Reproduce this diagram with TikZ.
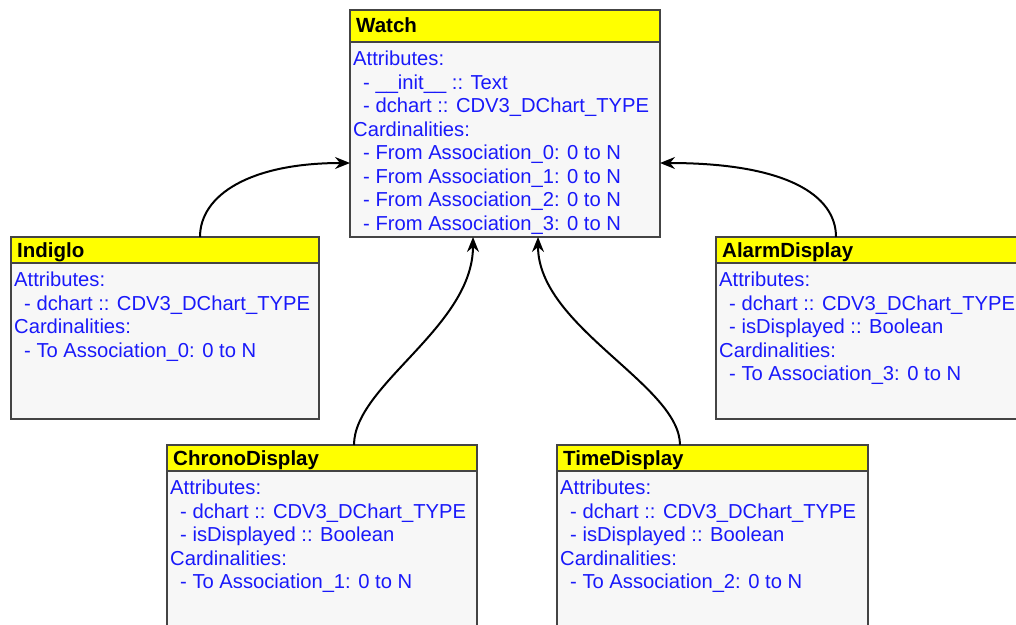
\documentclass[tikz,border=0pt]{standalone}
\usepackage{fontspec}
\setmainfont{Liberation Sans}
\usetikzlibrary{calc,arrows.meta}
\definecolor{boxline}{HTML}{444444}
\definecolor{bodyfill}{HTML}{F7F7F7}
\definecolor{titlefill}{HTML}{FFFF00}
\definecolor{attrblue}{RGB}{25,25,250}
\tikzset{
  titlebox/.style={draw=boxline, line width=1.2pt, fill=titlefill, anchor=north west, inner sep=0pt, outer sep=0pt},
  bodybox/.style={draw=boxline, line width=1.2pt, fill=bodyfill, anchor=north west, inner sep=0pt, outer sep=0pt},
  titletext/.style={anchor=base west, inner sep=0pt, font=\fontsize{20.5}{23.5}\selectfont\bfseries, text=black},
  linetext/.style={anchor=base west, inner sep=0pt, font=\fontsize{20.2}{23.5}\selectfont, text=attrblue},
  conn/.style={draw=black, line width=2pt, -{Stealth[length=15pt,width=12pt,inset=5pt]}}
}
% #1 name, #2 x, #3 y, #4 width, #5 title height, #6 body height, #7 title, #8 title baseline, #9 lines
\newcommand{\umlclass}[9]{%
  \node[titlebox, minimum width=#4pt, minimum height=#5pt] (#1T) at (#2,#3) {};
  \node[bodybox, minimum width=#4pt, minimum height=#6pt] (#1B) at (#1T.south west) {};
  \node[titletext] (#1N) at ($(#1T.north west)+(6,#8)$) {#7};
  \foreach \k/\t [count=\i] in {#9} {
    \node[linetext] (#1L\i) at ($(#1B.north west)+(\k,{23.5+23.5*(\i-1)})$) {\t};
  }
}
\begin{document}
\begin{tikzpicture}[x=1pt,y=-1pt]
\useasboundingbox (0,0) rectangle (1016,624);
\clip (0,0) rectangle (1016,624);
\fill[white] (0,0) rectangle (1016,624);

\umlclass{watch}{350}{10}{310}{32}{195}{Watch}{22.5}{3/Attributes:, 13/- \_\_init\_\_ :: Text, 13/- dchart :: CDV3\_DChart\_TYPE, 3/Cardinalities:, 13/- From Association\_0: 0 to N, 13/- From Association\_1: 0 to N, 13/- From Association\_2: 0 to N, 13/- From Association\_3: 0 to N}

\umlclass{ind}{11}{237}{308}{26}{156}{Indiglo}{20}{3/Attributes:, 13/- dchart :: CDV3\_DChart\_TYPE, 3/Cardinalities:, 13/- To Association\_0: 0 to N}

\umlclass{alarm}{716}{237}{310}{26}{156}{AlarmDisplay}{20}{3/Attributes:, 13/- dchart :: CDV3\_DChart\_TYPE, 13/- isDisplayed :: Boolean, 3/Cardinalities:, 13/- To Association\_3: 0 to N}

\umlclass{chrono}{167}{445}{310}{26}{170}{ChronoDisplay}{20}{3/Attributes:, 13/- dchart :: CDV3\_DChart\_TYPE, 13/- isDisplayed :: Boolean, 3/Cardinalities:, 13/- To Association\_1: 0 to N}

\umlclass{time}{557}{445}{311}{26}{170}{TimeDisplay}{20}{3/Attributes:, 13/- dchart :: CDV3\_DChart\_TYPE, 13/- isDisplayed :: Boolean, 3/Cardinalities:, 13/- To Association\_2: 0 to N}

\draw[conn] ($(indT.north west)+(189,0)$) .. controls +(0,-42) and +(-100,0) .. ($(watchB.north west)+(0,121)$);
\draw[conn] ($(alarmT.north west)+(120,0)$) .. controls +(0,-42) and +(126,0) .. ($(watchB.north east)+(0,121)$);
\draw[conn] ($(chronoT.north west)+(187,0)$) .. controls +(0,-60) and +(0,90) .. ($(watchB.south west)+(123,0)$);
\draw[conn] ($(timeT.north west)+(123,0)$) .. controls +(0,-60) and +(0,90) .. ($(watchB.south west)+(188,0)$);
\end{tikzpicture}
\end{document}
